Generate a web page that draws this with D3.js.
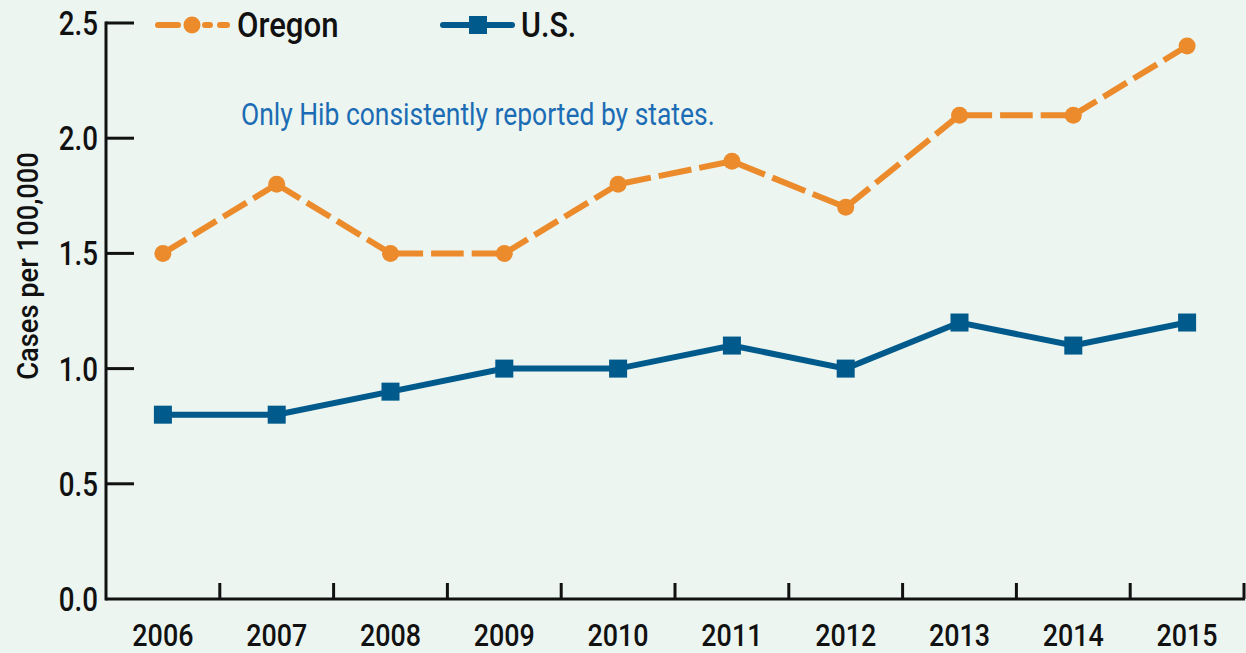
<!DOCTYPE html>
<html><head><meta charset="utf-8">
<script src="https://cdn.jsdelivr.net/npm/d3@7"></script>
<style>
html,body{margin:0;padding:0;background:#ecf5f0;}
svg{display:block;}
text{font-family:Roboto,"Liberation Sans",sans-serif;}
</style></head>
<body>
<svg id="chart" width="1246" height="653"></svg>
<script>
const years = ["2006","2007","2008","2009","2010","2011","2012","2013","2014","2015"];
const oregon = [1.5,1.8,1.5,1.5,1.8,1.9,1.7,2.1,2.1,2.4];
const us = [0.8,0.8,0.9,1.0,1.0,1.1,1.0,1.2,1.1,1.2];
const yTicks = [0,0.5,1.0,1.5,2.0,2.5];
const seriesNames = ["Oregon","U.S."];
const note = "Only Hib consistently reported by states.";
const yTitle = "Cases per 100,000";

const ORANGE = "#ec8b2c", BLUE = "#005a8b", INK = "#111";
const svg = d3.select("#chart");
const x = d3.scaleBand().domain(years).range([106,1244]);
const y = d3.scaleLinear().domain([0,2.5]).range([599,23]);
const cx = d => x(d) + x.bandwidth()/2;

function ctext(parent, str, tx, ty, size, sx, anchor, weight, fill, rot){
  const g = parent.append("g").attr("transform",`translate(${tx},${ty})` + (rot?` rotate(${rot})`:""));
  return g.append("text").attr("transform",`scale(${sx},1)`).attr("text-anchor",anchor||"start")
    .attr("font-size",size).attr("font-weight",weight||500).attr("fill",fill||INK).text(str);
}

// axes
svg.append("line").attr("x1",106).attr("x2",106).attr("y1",y(2.5)-1.5).attr("y2",y(0)+1.5)
  .attr("stroke",INK).attr("stroke-width",3);
svg.append("line").attr("x1",106).attr("x2",1245).attr("y1",y(0)).attr("y2",y(0))
  .attr("stroke",INK).attr("stroke-width",3);
svg.selectAll(".yt").data(yTicks.filter(d=>d>0)).enter().append("line")
  .attr("x1",106).attr("x2",134).attr("y1",d=>y(d)).attr("y2",d=>y(d))
  .attr("stroke",INK).attr("stroke-width",3);
yTicks.forEach(d => ctext(svg, d.toFixed(1), 98, y(d)+12, 33, 0.84, "end"));
svg.selectAll(".xt").data(years).enter().append("line")
  .attr("x1",d=>x(d)+x.bandwidth()).attr("x2",d=>x(d)+x.bandwidth())
  .attr("y1",y(0)).attr("y2",y(0)-16)
  .attr("stroke",INK).attr("stroke-width",3);
years.forEach(d => ctext(svg, d, cx(d), 646, 32, 0.84, "middle"));
// y title
ctext(svg, yTitle, 38, 266, 30, 0.91, "middle", 500, INK, -90);

// note
ctext(svg, note, 241, 125, 31, 0.853, "start", 400, "#1b6cb4");

// Oregon: dashed segments
const segs = years.slice(1).map((yr,i)=>({x1:cx(years[i]),y1:y(oregon[i]),x2:cx(yr),y2:y(oregon[i+1])}));
svg.selectAll(".os").data(segs).enter().append("line")
  .attr("x1",d=>d.x1).attr("y1",d=>d.y1).attr("x2",d=>d.x2).attr("y2",d=>d.y2)
  .attr("stroke",ORANGE).attr("stroke-width",6)
  .attr("stroke-dasharray",function(d){
     const L = Math.hypot(d.x2-d.x1,d.y2-d.y1);
     const n = Math.max(1,Math.round((L+8)/38));
     const dash = (L - (n-1)*8)/n;
     return dash+","+8;
  });
svg.selectAll(".oc").data(oregon).enter().append("circle")
  .attr("cx",(d,i)=>cx(years[i])).attr("cy",d=>y(d)).attr("r",8.5).attr("fill",ORANGE);

// US line
svg.append("path").datum(us)
  .attr("d",d3.line().x((d,i)=>cx(years[i])).y(d=>y(d)))
  .attr("fill","none").attr("stroke",BLUE).attr("stroke-width",6);
svg.selectAll(".us").data(us).enter().append("rect")
  .attr("x",(d,i)=>cx(years[i])-9).attr("y",d=>y(d)-9).attr("width",18).attr("height",18).attr("fill",BLUE);

// legend
const lg = svg.append("g");
lg.append("line").attr("x1",158).attr("x2",227).attr("y1",25).attr("y2",25)
  .attr("stroke",ORANGE).attr("stroke-width",6).attr("stroke-linecap","round")
  .attr("stroke-dasharray","20,27,5,10,20");
lg.append("circle").attr("cx",192).attr("cy",25).attr("r",8.5).attr("fill",ORANGE);
ctext(lg, seriesNames[0], 237, 37, 35, 0.89, "start", 500);
lg.append("line").attr("x1",443).attr("x2",512).attr("y1",25).attr("y2",25)
  .attr("stroke",BLUE).attr("stroke-width",6).attr("stroke-linecap","round");
lg.append("rect").attr("x",469).attr("y",16).attr("width",18).attr("height",18).attr("fill",BLUE);
ctext(lg, seriesNames[1], 521, 37, 35, 0.87, "start", 500);
</script>
</body></html>
